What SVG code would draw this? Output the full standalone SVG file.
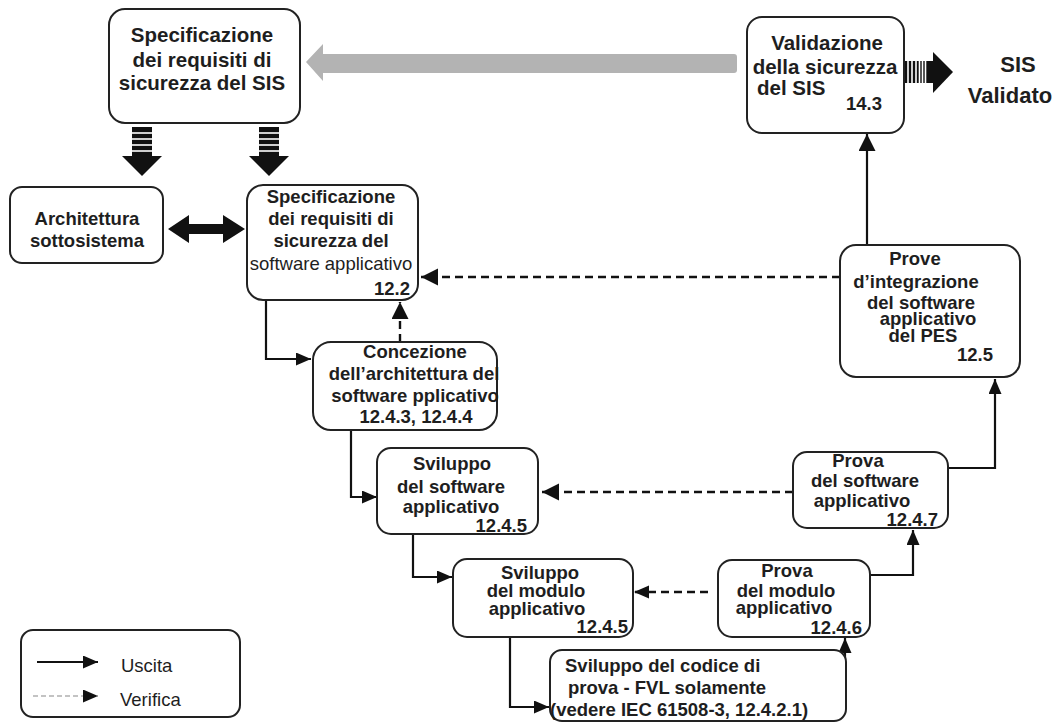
<svg xmlns="http://www.w3.org/2000/svg" width="1059" height="726" viewBox="0 0 1059 726">
  <defs>
    <style>
      .box { fill: #ffffff; stroke: #222222; stroke-width: 2; }
      .t { font-family: "Liberation Sans", Arial, sans-serif; font-weight: bold; font-size: 18.5px; fill: #1e1e1e; text-anchor: middle; }
      .big { font-size: 20.5px; }
      .xl { font-size: 22px; }
      .end { text-anchor: end; }
      .start { text-anchor: start; }
      .reg { font-weight: normal; }
      .wire { stroke: #111111; stroke-width: 2.2; fill: none; }
      .dash { stroke: #111111; stroke-width: 2.4; stroke-dasharray: 8 5; fill: none; }
      .legdash { stroke: #888888; stroke-width: 1.1; stroke-dasharray: 5 3; fill: none; }
      .solid { fill: #111111; }
      .gap { stroke: #ffffff; stroke-width: 1.6; }
    </style>
    <marker id="head" markerUnits="userSpaceOnUse" markerWidth="18" markerHeight="18" refX="17" refY="8.5" orient="auto">
      <path d="M0,0 L17,8.5 L0,17 z" fill="#111111"/>
    </marker>
    <marker id="headS" markerUnits="userSpaceOnUse" markerWidth="16" markerHeight="14" refX="15" refY="6.5" orient="auto">
      <path d="M0,0 L15,6.5 L0,13 z" fill="#111111"/>
    </marker>
  </defs>

  <rect width="1059" height="726" fill="#ffffff"/>

  <!-- connectors -->
  <g id="connectors">
    <!-- feedback from validation to the SIS safety requirements -->
    <path d="M306,62 L323,44 L323,54 L734,54 Q737,54 737,57 L737,70 Q737,73 734,73 L323,73 L323,81 z" fill="#b3b3b3"/>
    <!-- validated SIS output -->
    <rect x="905" y="61" width="30" height="22" class="solid"/>
    <line x1="908" y1="61" x2="908" y2="83" class="gap"/>
    <line x1="912" y1="61" x2="912" y2="83" class="gap"/>
    <line x1="916" y1="61" x2="916" y2="83" class="gap"/>
    <line x1="919.5" y1="61" x2="919.5" y2="83" class="gap"/>
    <line x1="922.5" y1="61" x2="922.5" y2="83" class="gap" stroke-width="1.2"/>
    <line x1="925.5" y1="61" x2="925.5" y2="83" class="gap" stroke-width="1"/>
    <path d="M933,52 L953,72 L933,93 z" class="solid"/>
    <!-- SIS requirements down to subsystem architecture -->
    <rect x="132" y="127" width="20" height="31" class="solid"/>
    <line x1="132" y1="133" x2="152" y2="133" class="gap"/>
    <line x1="132" y1="139" x2="152" y2="139" class="gap"/>
    <line x1="132" y1="145" x2="152" y2="145" class="gap"/>
    <line x1="132" y1="151" x2="152" y2="151" class="gap"/>
    <path d="M122,156 L162,156 L142,176 z" class="solid"/>
    <!-- SIS requirements down to software requirements -->
    <rect x="259" y="127" width="20" height="31" class="solid"/>
    <line x1="259" y1="133" x2="279" y2="133" class="gap"/>
    <line x1="259" y1="139" x2="279" y2="139" class="gap"/>
    <line x1="259" y1="145" x2="279" y2="145" class="gap"/>
    <line x1="259" y1="151" x2="279" y2="151" class="gap"/>
    <path d="M249,156 L289,156 L269,176 z" class="solid"/>
    <!-- two-way link architecture / software requirements -->
    <path d="M168,229 L189,215 L189,224 L223,224 L223,215 L245,229 L223,243 L223,234 L189,234 L189,243 z" class="solid"/>

    <!-- outputs -->
    <path d="M266,300 V359 H311" class="wire" marker-end="url(#headS)"/>
    <path d="M351,430 V497 H377" class="wire" marker-end="url(#headS)"/>
    <path d="M413,534 V577 H452" class="wire" marker-end="url(#headS)"/>
    <path d="M510,637 V707 H549" class="wire" marker-end="url(#headS)"/>
    <path d="M845,672 V638" class="wire" marker-end="url(#headS)"/>
    <path d="M870,575 H913 V530" class="wire" marker-end="url(#headS)"/>
    <path d="M948,468 H995 V379" class="wire" marker-end="url(#headS)"/>
    <path d="M867,245 V134" class="wire" marker-end="url(#head)"/>

    <!-- verifications -->
    <path d="M400,342 V302" class="dash" marker-end="url(#head)"/>
    <path d="M840,277 H421" class="dash" marker-end="url(#head)"/>
    <path d="M793,492 H542" class="dash" marker-end="url(#head)"/>
    <path d="M708,592 H634" class="dash" marker-end="url(#headS)"/>
  </g>

  <!-- SIS safety requirements specification -->
  <g id="sis-spec">
    <rect x="109" y="9" width="191" height="114" rx="16" class="box"/>
    <text class="t big" x="202" y="42">Specificazione</text>
    <text class="t big" x="202" y="67">dei requisiti di</text>
    <text class="t big" x="202" y="90">sicurezza del SIS</text>
  </g>

  <!-- SIS safety validation -->
  <g id="sis-validation">
    <rect x="747" y="17" width="157" height="116" rx="15" class="box"/>
    <text class="t big" x="827" y="50">Validazione</text>
    <text class="t big" x="825" y="74">della sicurezza</text>
    <text class="t big start" x="757" y="95">del SIS</text>
    <text class="t end" x="882" y="110">14.3</text>
  </g>

  <!-- validated SIS -->
  <g id="sis-validated">
    <text class="t xl" x="1018" y="72">SIS</text>
    <text class="t xl" x="1010" y="103">Validato</text>
  </g>

  <!-- subsystem architecture -->
  <g id="subsystem-architecture">
    <rect x="10" y="187" width="153" height="76" rx="12" class="box"/>
    <text class="t" x="87" y="225">Architettura</text>
    <text class="t" x="87" y="247">sottosistema</text>
  </g>

  <!-- application software safety requirements -->
  <g id="sw-requirements">
    <rect x="247" y="185" width="171" height="115" rx="16" class="box"/>
    <text class="t" x="331" y="203">Specificazione</text>
    <text class="t" x="331" y="225">dei requisiti di</text>
    <text class="t" x="331" y="247">sicurezza del</text>
    <text class="t reg" x="331" y="270" font-size="17px">software applicativo</text>
    <text class="t end" x="410" y="295">12.2</text>
  </g>

  <!-- software architecture design -->
  <g id="sw-architecture">
    <rect x="313" y="342" width="184" height="88" rx="18" class="box"/>
    <text class="t" x="415" y="358">Concezione</text>
    <text class="t" x="414" y="380">dell’architettura del</text>
    <text class="t" x="415" y="402">software pplicativo</text>
    <text class="t" x="416" y="423">12.4.3, 12.4.4</text>
  </g>

  <!-- application software development -->
  <g id="sw-development">
    <rect x="377" y="448" width="161" height="86" rx="14" class="box"/>
    <text class="t" x="452" y="470">Sviluppo</text>
    <text class="t" x="451" y="493">del software</text>
    <text class="t" x="451" y="513">applicativo</text>
    <text class="t end" x="527" y="532">12.4.5</text>
  </g>

  <!-- application module development -->
  <g id="module-development">
    <rect x="453" y="559" width="180" height="78" rx="14" class="box"/>
    <text class="t" x="540" y="579">Sviluppo</text>
    <text class="t" x="536" y="597">del modulo</text>
    <text class="t" x="537" y="615">applicativo</text>
    <text class="t end" x="628" y="633">12.4.5</text>
  </g>

  <!-- FVL test code development -->
  <g id="test-code">
    <rect x="550" y="650" width="296" height="71" rx="12" class="box"/>
    <text class="t start" x="565" y="672">Sviluppo del codice di</text>
    <text class="t start" x="568" y="694">prova - FVL solamente</text>
    <text class="t start" x="550" y="716">(vedere IEC 61508-3, 12.4.2.1)</text>
  </g>

  <!-- application module test -->
  <g id="module-test">
    <rect x="718" y="560" width="152" height="77" rx="14" class="box"/>
    <text class="t" x="787" y="577">Prova</text>
    <text class="t" x="786" y="597">del modulo</text>
    <text class="t" x="784" y="614">applicativo</text>
    <text class="t end" x="862" y="634">12.4.6</text>
  </g>

  <!-- application software test -->
  <g id="sw-test">
    <rect x="793" y="452" width="155" height="76" rx="14" class="box"/>
    <text class="t" x="858" y="467">Prova</text>
    <text class="t" x="865" y="487">del software</text>
    <text class="t" x="862" y="507">applicativo</text>
    <text class="t end" x="938" y="526">12.4.7</text>
  </g>

  <!-- PES application software integration test -->
  <g id="integration-test">
    <rect x="840" y="245" width="180" height="132" rx="16" class="box"/>
    <text class="t" x="915" y="265">Prove</text>
    <text class="t" x="916" y="288">d’integrazione</text>
    <text class="t" x="921" y="309">del software</text>
    <text class="t" x="928" y="325">applicativo</text>
    <text class="t" x="923" y="342">del PES</text>
    <text class="t end" x="993" y="361">12.5</text>
  </g>

  <!-- legend -->
  <g id="legend">
    <rect x="21" y="630" width="219" height="87" rx="12" class="box" stroke-width="1.6"/>
    <path d="M37,662 H98" class="wire" marker-end="url(#headS)"/>
    <path d="M33,696 H98" class="legdash" marker-end="url(#headS)"/>
    <text class="t reg start" x="121" y="672" font-size="19.5px">Uscita</text>
    <text class="t reg start" x="120" y="706" font-size="19.5px">Verifica</text>
  </g>
</svg>
